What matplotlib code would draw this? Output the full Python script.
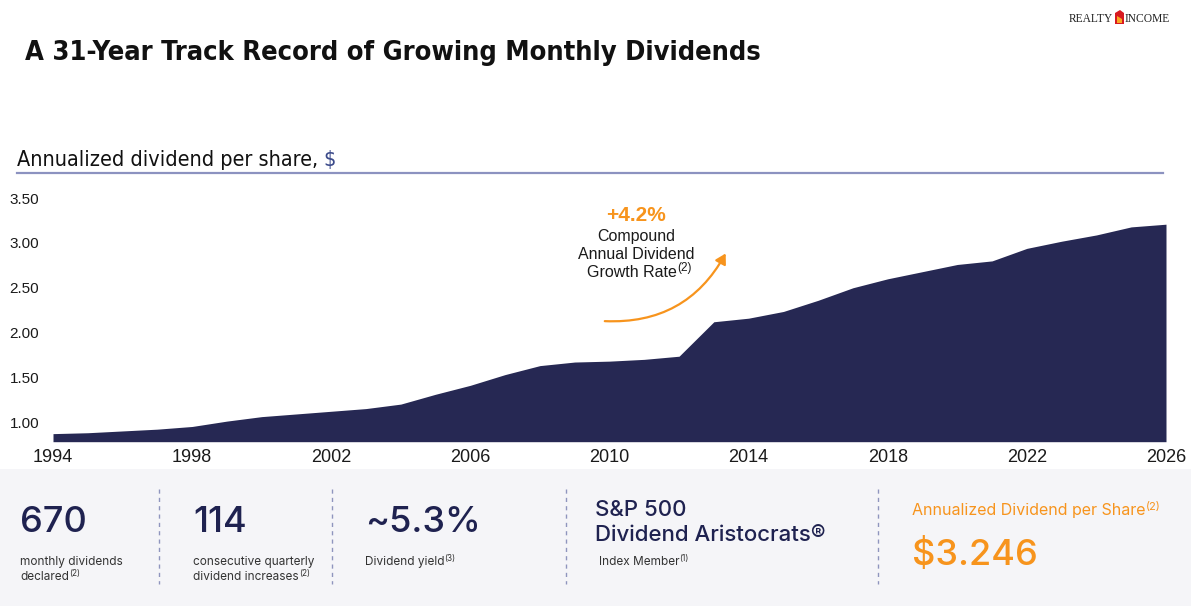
import matplotlib
matplotlib.use("Agg")
import matplotlib.pyplot as plt
from matplotlib import font_manager as fm
from matplotlib.font_manager import FontProperties
from matplotlib.patches import Rectangle, FancyArrowPatch, Polygon
from matplotlib.lines import Line2D

# ---------------- data ----------------
years = list(range(1994, 2027))
dividends = [0.87, 0.88, 0.90, 0.92, 0.95, 1.01, 1.06, 1.09, 1.12, 1.15,
             1.20, 1.31, 1.41, 1.53, 1.63, 1.67, 1.68, 1.70, 1.735, 2.12,
             2.16, 2.235, 2.36, 2.50, 2.60, 2.68, 2.76, 2.80, 2.94, 3.02,
             3.09, 3.18, 3.21]
x_ticks = [1994, 1998, 2002, 2006, 2010, 2014, 2018, 2022, 2026]
y_ticks = [1.00, 1.50, 2.00, 2.50, 3.00, 3.50]

title = "A 31-Year Track Record of Growing Monthly Dividends"
subtitle = "Annualized dividend per share,"
cagr = "+4.2%"
cagr_lines = ["Compound", "Annual Dividend", "Growth Rate"]
stat_values = ["670", "114", "~5.3%"]
stat_labels = [["monthly dividends", "declared"],
               ["consecutive quarterly", "dividend increases"],
               ["Dividend yield"]]
stat_notes = ["(2)", "(2)", "(3)"]
aristo = ["S&P 500", "Dividend Aristocrats\u00ae"]
aristo_note = "Index Member"
adps_label = "Annualized Dividend per Share"
adps_value = "$3.246"

# ---------------- style ----------------
NAVY = "#262853"
ORANGE = "#F7941D"
TEXT = "#1a1a1a"
RULE = "#8C92C0"
PANEL = "#F5F5F8"

W, H = 1191, 606
fig = plt.figure(figsize=(W / 100, H / 100), dpi=100)
fig.patch.set_facecolor("white")


def fx(px):
    return px / W


def fy(py):
    return 1 - py / H


def find_font(patterns):
    for pat in patterns:
        for f in fm.fontManager.ttflist:
            if pat.lower() in f.fname.lower().replace("-", "").replace("_", ""):
                return f.fname
    return None


cond_bold = find_font(["LiberationSansNarrowBold.", "DejaVuSansCondensedBold."])
cond_reg = find_font(["LiberationSansNarrowRegular.", "DejaVuSansCondensed."])
fp_title = FontProperties(fname=cond_bold) if cond_bold else FontProperties(family="DejaVu Sans", weight="bold")
fp_sub = FontProperties(fname=cond_reg) if cond_reg else FontProperties(family="DejaVu Sans")

BODY = "Inter"

renderer = fig.canvas.get_renderer()


def sup_after(t, text, size, color, rise, family=BODY, gap=0.0):
    bb = t.get_window_extent(renderer)
    x, y = t.get_position()
    fig.text(bb.x1 / W + gap / W, y + rise / H, text, fontsize=size,
             color=color, family=family, va="baseline", ha="left")


# ---------------- header ----------------
tt = fig.text(fx(25), fy(60), title, fontproperties=fp_title, fontsize=19.5,
              color="#111111", va="baseline", ha="left")
st = fig.text(fx(17), fy(166), subtitle, fontproperties=fp_sub, fontsize=15.5,
              color="#111111", va="baseline", ha="left")
bb = st.get_window_extent(renderer)
fig.text(bb.x1 / W + 5 / W, fy(166), "$", fontproperties=fp_sub, fontsize=15.5,
         color="#3b4a8a", va="baseline", ha="left")
fig.add_artist(Line2D([fx(17), fx(1163)], [fy(173), fy(173)], color=RULE, lw=1.6))

# logo
fig.text(fx(1113), fy(22), "REALTY", family="Liberation Serif", fontsize=8.3,
         color="#222222", ha="right", va="baseline")
fig.text(fx(1125), fy(22), "INCOME", family="Liberation Serif", fontsize=8.3,
         color="#222222", ha="left", va="baseline")
fig.add_artist(Polygon([[fx(1115), fy(13)], [fx(1120), fy(10)], [fx(1124), fy(13)],
                        [fx(1124), fy(24)], [fx(1115), fy(24)]], closed=True,
                       facecolor="#D71920", edgecolor="none", transform=fig.transFigure))
fig.add_artist(Polygon([[fx(1117), fy(16)], [fx(1122), fy(19)], [fx(1122), fy(23)],
                        [fx(1117), fy(23)]], closed=True,
                       facecolor="#F7A823", edgecolor="none", transform=fig.transFigure))

# ---------------- chart ----------------
ax_left, ax_right = 53, 1166
y_lo, y_hi = 0.78, 3.55
px_top = 422 - (y_hi - 1.0) * 89.5
px_bot = 422 + (1.0 - y_lo) * 89.5
ax = fig.add_axes([fx(ax_left), fy(px_bot), (ax_right - ax_left) / W, (px_bot - px_top) / H])
ax.set_facecolor("none")
ax.fill_between(years, dividends, y_lo, color=NAVY, linewidth=0)
ax.set_xlim(years[0], years[-1])
ax.set_ylim(y_lo, y_hi)
ax.set_xticks(x_ticks)
ax.set_xticklabels([str(v) for v in x_ticks])
ax.set_yticks(y_ticks)
ax.set_yticklabels([f"{v:.2f}" for v in y_ticks])
for s in ax.spines.values():
    s.set_visible(False)
ax.tick_params(axis="both", length=0)
ax.tick_params(axis="x", pad=5, labelsize=13, labelcolor=TEXT)
ax.tick_params(axis="y", pad=10, labelsize=11, labelcolor=TEXT)
for lab in ax.get_xticklabels() + ax.get_yticklabels():
    lab.set_family("Liberation Sans")

# annotation
fig.text(fx(636), fy(221), cagr, family="Liberation Sans", weight="bold",
         fontsize=15, color=ORANGE, ha="center", va="baseline")
for i, line in enumerate(cagr_lines[:2]):
    fig.text(fx(636), fy(241 + 18 * i), line, family="Liberation Sans",
             fontsize=11.5, color=TEXT, ha="center", va="baseline")
gr = fig.text(fx(632), fy(277), cagr_lines[2], family="Liberation Sans",
              fontsize=11.5, color=TEXT, ha="center", va="baseline")
sup_after(gr, "(2)", 8.5, TEXT, 6, family="Liberation Sans")
arrow = FancyArrowPatch((fx(602), fy(321)), (fx(727), fy(251)),
                        transform=fig.transFigure,
                        connectionstyle="arc3,rad=0.32",
                        arrowstyle="-|>,head_length=6,head_width=3.5",
                        color=ORANGE, lw=1.6, mutation_scale=1)
fig.add_artist(arrow)

# ---------------- bottom panel ----------------
fig.add_artist(Rectangle((0, 0), 1, fy(469), transform=fig.transFigure,
                         facecolor=PANEL, edgecolor="none", zorder=0))
for sx in [159, 332, 566, 878]:
    fig.add_artist(Line2D([fx(sx), fx(sx)], [fy(489), fy(584)], color="#8F95BE",
                          lw=1.0, linestyle=(0, (3, 3))))

stat_x = [20, 193, 365]
for x0, val, labels, note in zip(stat_x, stat_values, stat_labels, stat_notes):
    fig.text(fx(x0), fy(532), val, family=BODY, weight="medium", fontsize=26,
             color="#1F2250", ha="left", va="baseline")
    for j, lab in enumerate(labels):
        t = fig.text(fx(x0), fy(565 + 15 * j), lab, family=BODY, fontsize=8.5,
                     color="#333333", ha="left", va="baseline")
    sup_after(t, note, 6, "#333333", 4)

fig.text(fx(595), fy(516), aristo[0], family=BODY, weight="medium", fontsize=16,
         color="#1F2250", ha="left", va="baseline")
ar = fig.text(fx(595), fy(541), aristo[1], family=BODY, weight="medium", fontsize=16,
              color="#1F2250", ha="left", va="baseline")
im = fig.text(fx(599), fy(565), aristo_note, family=BODY, fontsize=8.5,
              color="#333333", ha="left", va="baseline")
sup_after(im, "(1)", 6, "#333333", 4)

al = fig.text(fx(912), fy(515), adps_label, family=BODY, fontsize=11.5,
              color=ORANGE, ha="left", va="baseline")
sup_after(al, "(2)", 8, ORANGE, 5)
fig.text(fx(912), fy(565), adps_value, family=BODY, weight="medium", fontsize=26,
         color=ORANGE, ha="left", va="baseline")

fig.savefig("out.png", dpi=100, facecolor="white")
